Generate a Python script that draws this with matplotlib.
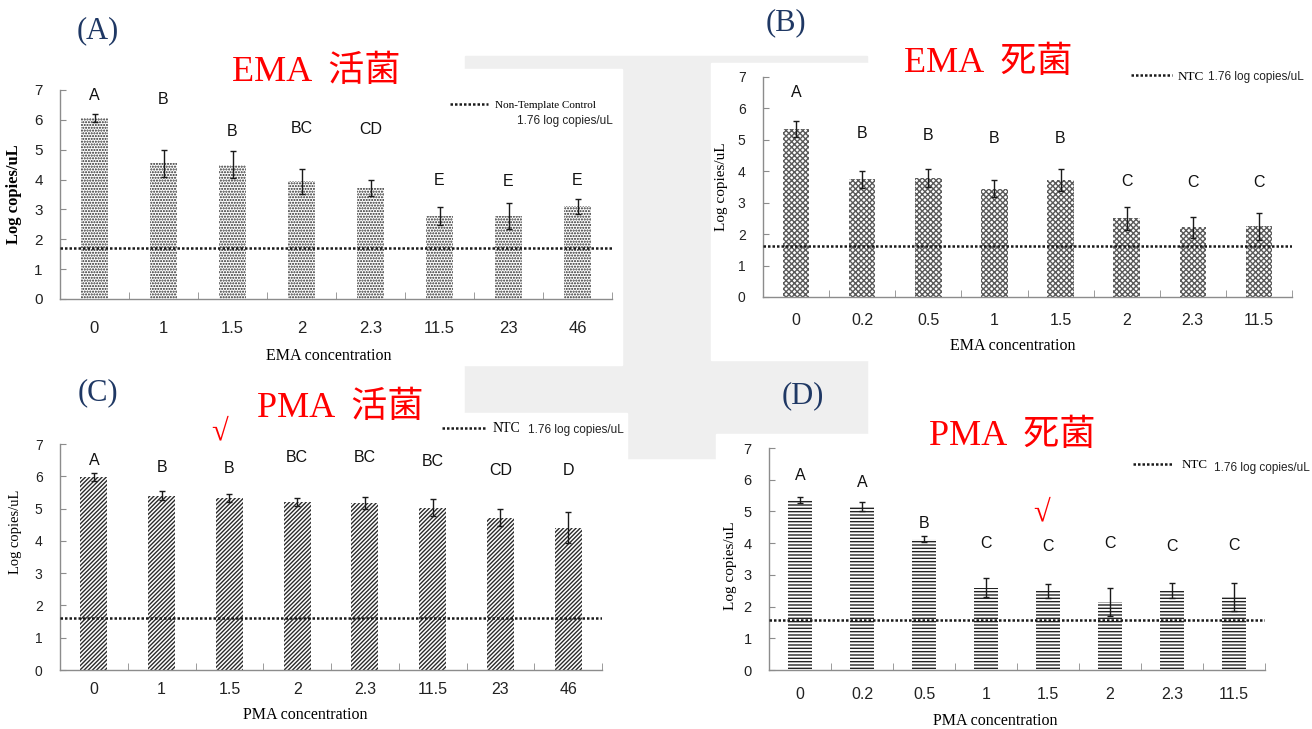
import numpy as np
import matplotlib.pyplot as plt
from matplotlib.patches import Rectangle

plt.rcParams['font.family'] = ['Liberation Sans Narrow', 'Liberation Sans', 'DejaVu Sans']
plt.rcParams['hatch.linewidth'] = 1.0

W, H = 1312, 729

# (A) EMA, live cells
ema_live_conc = ["0", "1", "1.5", "2", "2.3", "11.5", "23", "46"]
ema_live_mean = [6.05, 4.55, 4.50, 3.95, 3.72, 2.78, 2.78, 3.10]
ema_live_err = [0.13, 0.45, 0.45, 0.42, 0.28, 0.29, 0.42, 0.25]
ema_live_group = ["A", "B", "B", "BC", "CD", "E", "E", "E"]
ema_live_group_y = [6.81, 6.67, 5.61, 5.70, 5.67, 3.97, 3.94, 3.97]

# (B) EMA, dead cells
ema_dead_conc = ["0", "0.2", "0.5", "1", "1.5", "2", "2.3", "11.5"]
ema_dead_mean = [5.35, 3.75, 3.78, 3.45, 3.72, 2.50, 2.22, 2.25]
ema_dead_err = [0.25, 0.27, 0.28, 0.26, 0.36, 0.37, 0.33, 0.43]
ema_dead_group = ["A", "B", "B", "B", "B", "C", "C", "C"]
ema_dead_group_y = [6.51, 5.19, 5.15, 5.05, 5.05, 3.69, 3.64, 3.64]

# (C) PMA, live cells
pma_live_conc = ["0", "1", "1.5", "2", "2.3", "11.5", "23", "46"]
pma_live_mean = [5.98, 5.40, 5.33, 5.21, 5.18, 5.03, 4.72, 4.40]
pma_live_err = [0.12, 0.14, 0.12, 0.13, 0.19, 0.26, 0.26, 0.48]
pma_live_group = ["A", "B", "B", "BC", "BC", "BC", "CD", "D"]
pma_live_group_y = [6.50, 6.28, 6.24, 6.59, 6.59, 6.45, 6.19, 6.19]

# (D) PMA, dead cells
pma_dead_conc = ["0", "0.2", "0.5", "1", "1.5", "2", "2.3", "11.5"]
pma_dead_mean = [5.35, 5.15, 4.14, 2.60, 2.48, 2.15, 2.50, 2.30]
pma_dead_err = [0.09, 0.14, 0.10, 0.30, 0.22, 0.45, 0.24, 0.45]
pma_dead_group = ["A", "A", "B", "C", "C", "C", "C", "C"]
pma_dead_group_y = [6.13, 5.92, 4.61, 4.00, 3.89, 4.00, 3.89, 3.93]

# non-template control level as drawn in each panel (label says 1.76)
ntc_drawn = [1.70, 1.63, 1.62, 1.58]
ntc_text = "1.76 log copies/uL"

SERIF = ['Liberation Serif', 'DejaVu Serif']
TITLE_FONT = ['Liberation Serif', 'Noto Sans CJK SC']
DOTS = (0, (1, 0.8))


def fx(x):
    return x / W


def fy(y):
    return 1 - y / H


def add_axes_px(l, t, r, b):
    return fig.add_axes([fx(l), fy(b), (r - l) / W, (b - t) / H])


def draw_panel(ax, conc, mean, err, group, group_y, ntc, hatch, hcolor,
               xlabel, xfs, yfs, xpad, ylab_pos, xlab_pos, ylab_fs, ylab_bold=False):
    x = np.arange(len(conc))
    ax.bar(x, mean, width=0.4, color="white", edgecolor=hcolor, linewidth=0,
           hatch=hatch, zorder=2)
    ax.errorbar(x, mean, yerr=err, fmt="none", ecolor="#1a1a1a", elinewidth=1,
                capsize=2, capthick=1, zorder=3)
    ntc_line = ax.axhline(ntc, color="#1a1a1a", linestyle=DOTS, linewidth=1.8, zorder=4)
    for xi, g, gy in zip(x, group, group_y):
        ax.text(xi, gy, g, ha="center", va="center", fontsize=11.5,
                family="Liberation Sans", color="#111")
    ax.set_xlim(-0.5, len(conc) - 0.5)
    ax.set_ylim(0, 7)
    ax.set_yticks(range(8))
    ax.set_xticks(x, conc)
    ax.set_xticks(np.arange(len(conc) + 1) - 0.5, minor=True)
    ax.tick_params(axis="x", which="major", length=0, pad=xpad, labelsize=xfs, labelcolor="#222")
    ax.tick_params(axis="x", which="minor", direction="in", length=5, color="#8c8c8c")
    ax.tick_params(axis="y", direction="in", length=4, color="#8c8c8c", pad=12.5,
                   labelsize=yfs, labelcolor="#222")
    for s in ["top", "right"]:
        ax.spines[s].set_visible(False)
    for s in ["left", "bottom"]:
        ax.spines[s].set_color("#8c8c8c")
        ax.spines[s].set_linewidth(1)
    ax.set_facecolor("white")
    ax.set_ylabel("Log copies/uL", family=SERIF, fontsize=ylab_fs,
                  fontweight="bold" if ylab_bold else "normal", va="bottom")
    ax.yaxis.set_label_coords(*ylab_pos)
    ax.set_xlabel(xlabel, family=SERIF, fontsize=11.5, va="top")
    ax.xaxis.set_label_coords(*xlab_pos)
    return ntc_line


fig = plt.figure(figsize=(W / 100, H / 100), dpi=100)

# faint seal watermark behind the four pasted panels
fig.add_artist(Rectangle((fx(465), fy(458)), (867 - 465) / W, (458 - 56) / H,
                         transform=fig.transFigure, color="#efefef", zorder=-3))
for l, t, r, b in [(0, 69, 622, 365), (711, 63, 1312, 360), (0, 413, 627, 729), (716, 434, 1312, 729)]:
    fig.add_artist(Rectangle((fx(l), fy(b)), (r - l) / W, (b - t) / H,
                             transform=fig.transFigure, color="white", zorder=-2))

axA = add_axes_px(60, 90, 612, 299)
axB = add_axes_px(763, 77, 1292, 297)
axC = add_axes_px(60, 444, 602, 670)
axD = add_axes_px(769, 448, 1265, 670)

lA = draw_panel(axA, ema_live_conc, ema_live_mean, ema_live_err, ema_live_group, ema_live_group_y,
                ntc_drawn[0], "......", "#262626", "EMA concentration", 12, 11, 16,
                (-0.068, 0.5), (0.486, -0.234), 12, ylab_bold=True)
lB = draw_panel(axB, ema_dead_conc, ema_dead_mean, ema_dead_err, ema_dead_group, ema_dead_group_y,
                ntc_drawn[1], "xxxxxx", "#5a5a5a", "EMA concentration", 11.5, 10, 11.5,
                (-0.066, 0.5), (0.473, -0.186), 11)
lC = draw_panel(axC, pma_live_conc, pma_live_mean, pma_live_err, pma_live_group, pma_live_group_y,
                ntc_drawn[2], "////////", "#2a2a2a", "PMA concentration", 11.5, 10, 8.6,
                (-0.070, 0.61), (0.452, -0.164), 10.5)
lD = draw_panel(axD, pma_dead_conc, pma_dead_mean, pma_dead_err, pma_dead_group, pma_dead_group_y,
                ntc_drawn[3], "-----", "#222222", "PMA concentration", 11.5, 10.5, 12,
                (-0.064, 0.47), (0.456, -0.194), 11)

# legends: dotted NTC sample + caption
legend_specs = [
    (axA, lA, "Non-Template Control", 8, 450, 105, 3.4, 0.63, 517, 121),
    (axB, lB, "NTC", 9.5, 1131, 77, 3.1, 0.4, 1208, 77),
    (axC, lC, "NTC", 10, 442, 429, 3.2, 0.43, 528, 430),
    (axD, lD, "NTC", 9.4, 1133, 465, 3.1, 0.6, 1214, 468),
]
for ax, line, lab, fs, lx, ly, hl, htp, tx, ty in legend_specs:
    ax.legend([line], [lab], loc="center left", bbox_to_anchor=(fx(lx), fy(ly)),
              bbox_transform=fig.transFigure, frameon=False, borderpad=0, borderaxespad=0,
              handlelength=hl, handletextpad=htp, prop={"family": SERIF, "size": fs})
    fig.text(fx(tx), fy(ty), ntc_text, ha="left", va="center", fontsize=8.5, color="#222")

# panel tags and red titles
for tag, x, y in [("(A)", 98, 31), ("(B)", 786, 23), ("(C)", 98, 393), ("(D)", 803, 396)]:
    fig.text(fx(x), fy(y), tag, ha="center", va="center", fontsize=22, family=SERIF, color="#1f3864")

for title, x, y in [("EMA  活菌", 316, 72), ("EMA  死菌", 988, 63),
                    ("PMA  活菌", 340, 408), ("PMA  死菌", 1012, 436)]:
    fig.text(fx(x), fy(y), title, ha="center", va="center", fontsize=26, family=TITLE_FONT, color="red")

for x, y in [(220, 432), (1042, 513)]:
    fig.text(fx(x), fy(y), "√", ha="center", va="center", fontsize=22,
             family=['Liberation Serif', 'DejaVu Sans'], color="red")

fig.savefig("out.png", dpi=100)
